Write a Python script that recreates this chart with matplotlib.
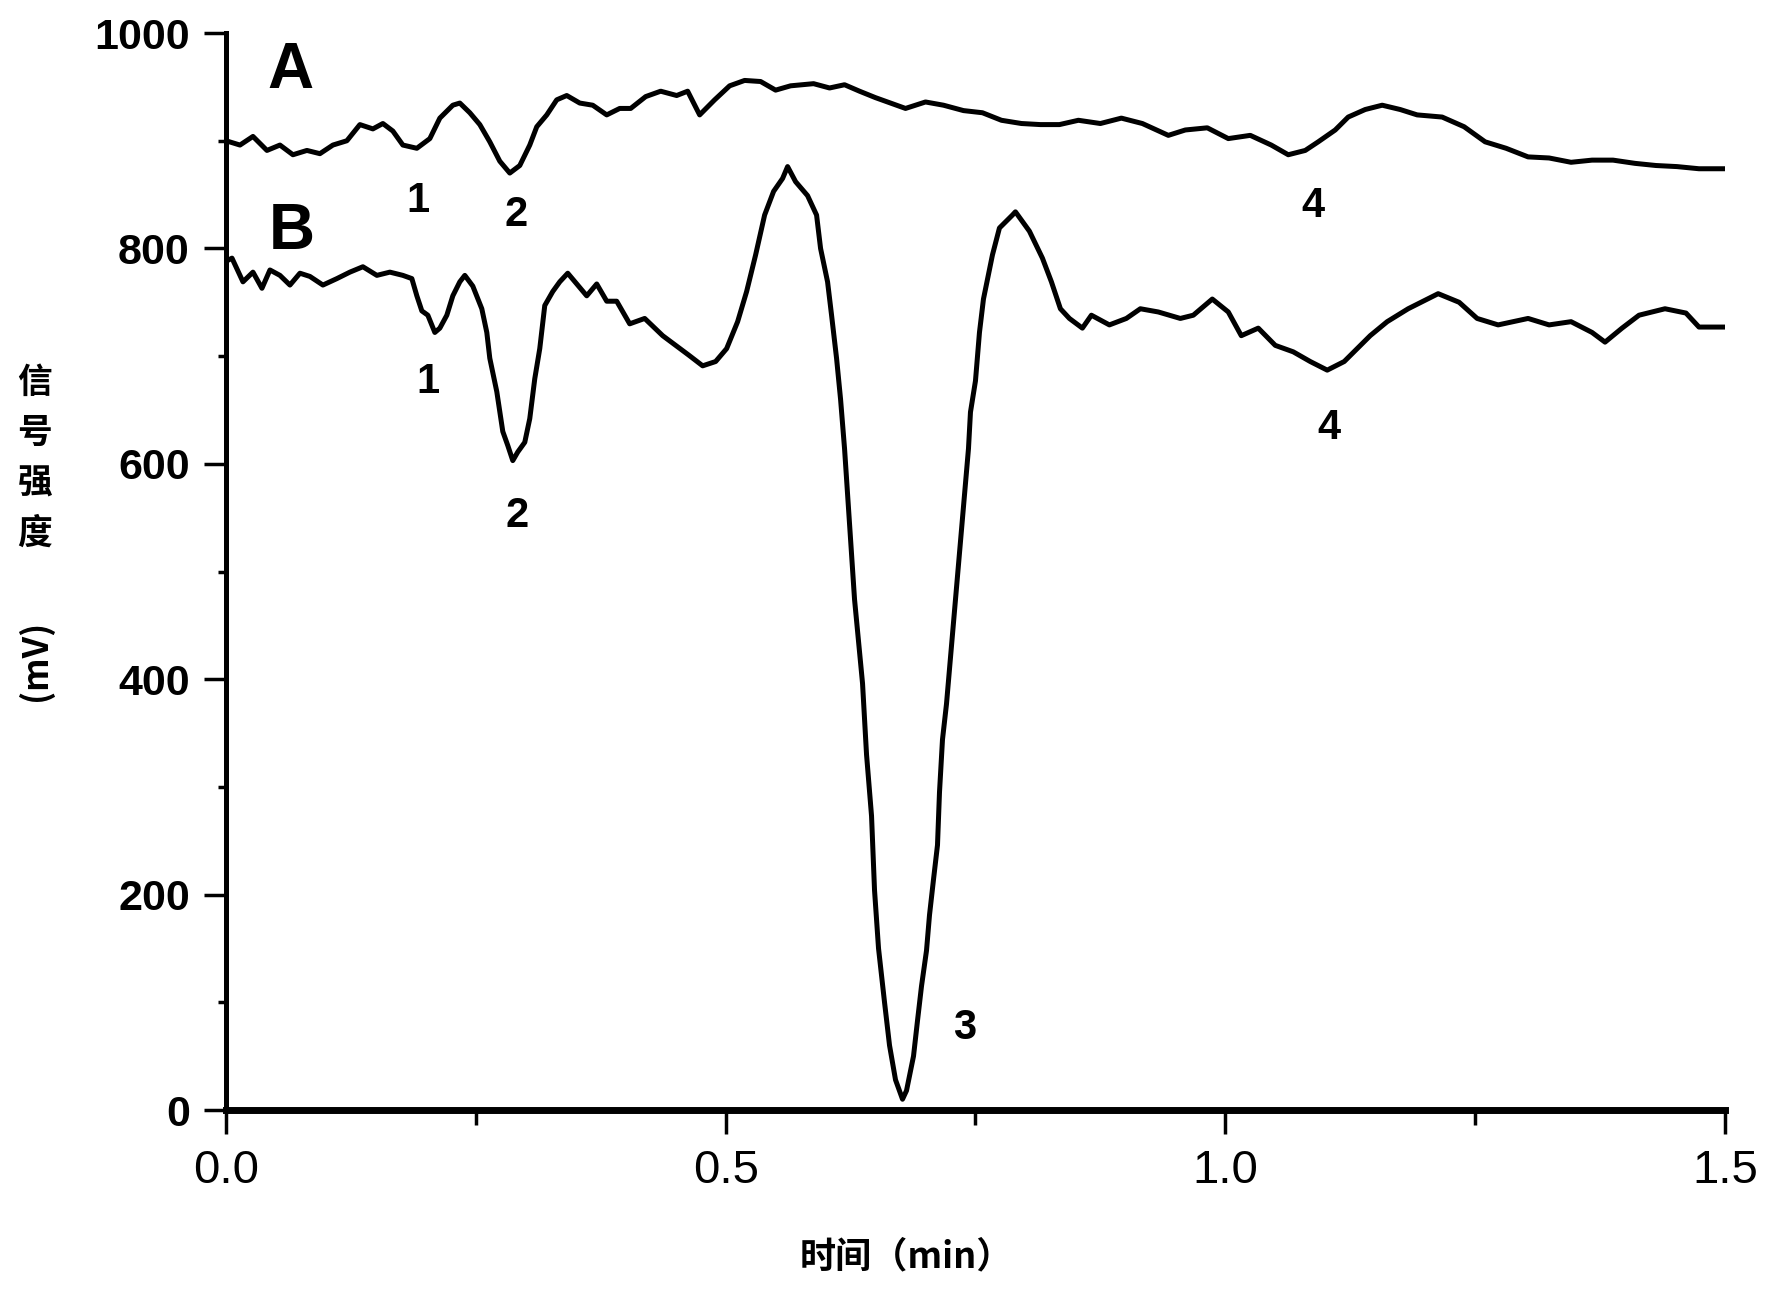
import numpy as np
import matplotlib
matplotlib.use("Agg")
import matplotlib.pyplot as plt
from matplotlib.ticker import MultipleLocator

# trace A (time in min, signal in mV)
t_a = [0.000, 0.014, 0.027, 0.041, 0.054, 0.067, 0.081, 0.094, 0.107, 0.121,
       0.134, 0.147, 0.157, 0.167, 0.177, 0.191, 0.204, 0.214, 0.227, 0.234,
       0.244, 0.254, 0.264, 0.274, 0.284, 0.294, 0.304, 0.311, 0.321, 0.331,
       0.341, 0.354, 0.367, 0.381, 0.394, 0.405, 0.420, 0.435, 0.451, 0.462,
       0.474, 0.489, 0.504, 0.519, 0.535, 0.550, 0.565, 0.588, 0.604, 0.619,
       0.634, 0.650, 0.665, 0.680, 0.700, 0.718, 0.738, 0.757, 0.776, 0.796,
       0.815, 0.834, 0.853, 0.875, 0.896, 0.917, 0.943, 0.960, 0.982, 1.003,
       1.025, 1.046, 1.063, 1.080, 1.093, 1.110, 1.123, 1.140, 1.157, 1.175,
       1.192, 1.217, 1.239, 1.260, 1.281, 1.303, 1.324, 1.346, 1.367, 1.388,
       1.410, 1.431, 1.452, 1.474, 1.500]
v_a = [900, 896, 904, 891, 896, 887, 891, 888, 896, 900,
       915, 911, 916, 909, 896, 893, 902, 921, 933, 935,
       926, 915, 899, 881, 870, 877, 896, 913, 924, 938,
       942, 935, 933, 924, 930, 930, 941, 946, 942, 946,
       924, 938, 951, 956, 955, 947, 951, 953, 949, 952,
       946, 940, 935, 930, 936, 933, 928, 926, 919, 916,
       915, 915, 919, 916, 921, 916, 905, 910, 912, 902,
       905, 896, 887, 891, 899, 910, 922, 929, 933, 929,
       924, 922, 913, 899, 893, 885, 884, 880, 882, 882,
       879, 877, 876, 874, 874]

# trace B
t_b = [0.000, 0.006, 0.017, 0.027, 0.036, 0.044, 0.054, 0.064, 0.074, 0.084,
       0.097, 0.111, 0.124, 0.137, 0.151, 0.164, 0.177, 0.186, 0.191, 0.196,
       0.202, 0.209, 0.214, 0.221, 0.227, 0.234, 0.239, 0.247, 0.256, 0.261,
       0.264, 0.271, 0.277, 0.282, 0.287, 0.292, 0.299, 0.304, 0.309, 0.314,
       0.319, 0.327, 0.334, 0.342, 0.351, 0.361, 0.371, 0.381, 0.391, 0.404,
       0.419, 0.437, 0.450, 0.463, 0.477, 0.490, 0.501, 0.512, 0.521, 0.530,
       0.539, 0.548, 0.557, 0.562, 0.570, 0.582, 0.591, 0.595, 0.602, 0.606,
       0.611, 0.615, 0.619, 0.629, 0.637, 0.641, 0.646, 0.649, 0.653, 0.659,
       0.664, 0.670, 0.677, 0.681, 0.688, 0.692, 0.696, 0.701, 0.704, 0.708,
       0.712, 0.714, 0.717, 0.721, 0.724, 0.727, 0.730, 0.743, 0.745, 0.750,
       0.754, 0.758, 0.767, 0.774, 0.787, 0.790, 0.804, 0.817, 0.826, 0.835,
       0.844, 0.857, 0.866, 0.884, 0.901, 0.915, 0.933, 0.955, 0.968, 0.987,
       1.003, 1.016, 1.033, 1.050, 1.068, 1.085, 1.102, 1.119, 1.132, 1.145,
       1.162, 1.183, 1.213, 1.234, 1.252, 1.273, 1.303, 1.324, 1.346, 1.367,
       1.380, 1.397, 1.414, 1.440, 1.461, 1.474, 1.500]
v_b = [788, 791, 769, 778, 763, 780, 775, 766, 777, 774,
       766, 772, 778, 783, 775, 778, 775, 772, 756, 742,
       738, 722, 726, 738, 756, 769, 775, 765, 744, 722,
       698, 667, 630, 617, 603, 611, 620, 642, 679, 707,
       747, 760, 769, 777, 767, 756, 767, 751, 751, 730,
       735, 719, 710, 701, 691, 695, 707, 732, 760, 794,
       831, 853, 865, 876, 862, 849, 831, 800, 769, 738,
       698, 660, 614, 474, 396, 330, 273, 204, 150, 100,
       60, 28, 10, 18, 50, 83, 115, 148, 181, 214,
       246, 295, 344, 377, 409, 442, 474, 614, 648, 677,
       722, 753, 794, 819, 831, 834, 816, 791, 769, 744,
       735, 726, 738, 729, 735, 744, 741, 735, 738, 753,
       741, 719, 726, 710, 704, 695, 687, 695, 707, 719,
       732, 744, 758, 750, 735, 729, 735, 729, 732, 722,
       713, 726, 738, 744, 740, 727, 727]

# curve names and peak numbers
curve_names = ["A", "B"]
curve_name_pos = [(0.065, 965), (0.066, 815)]
peak_labels = ["1", "2", "4", "1", "2", "3", "4"]
peak_pos = [(0.192, 844), (0.290, 831), (1.088, 839),
            (0.202, 676), (0.291, 552), (0.739, 76), (1.104, 633)]

x_ticks = [0.0, 0.5, 1.0, 1.5]
y_ticks = [0, 200, 400, 600, 800, 1000]

cjk = ['Noto Sans CJK SC', 'DejaVu Sans']
latin = ['Liberation Sans', 'DejaVu Sans']

fig = plt.figure(figsize=(17.71, 12.91), dpi=100)
ax = fig.add_axes([0.1276, 0.1402, 0.8464, 0.8342])

ax.plot(t_a, v_a, color='black', lw=3.6)
ax.plot(t_b, v_b, color='black', lw=3.6)

ax.set_xlim(0, 1.5)
ax.set_ylim(0, 1000)

for s in ['top', 'right']:
    ax.spines[s].set_visible(False)
ax.spines['left'].set_linewidth(3.6)
ax.spines['bottom'].set_linewidth(5)

ax.set_xticks(x_ticks)
ax.set_xticklabels(['%.1f' % x for x in x_ticks], family=latin, fontsize=34)
ax.set_yticks(y_ticks)
ax.set_yticklabels([str(y) for y in y_ticks], family=latin, fontsize=31,
                   fontweight='bold')
ax.xaxis.set_minor_locator(MultipleLocator(0.25))
ax.yaxis.set_minor_locator(MultipleLocator(100))
ax.tick_params(axis='x', which='major', direction='out', length=17, width=2.5, pad=11)
ax.tick_params(axis='x', which='minor', direction='out', length=11, width=2.5)
ax.tick_params(axis='y', which='major', direction='out', length=16, width=2.5, pad=10)
ax.tick_params(axis='y', which='minor', direction='out', length=6, width=2.5)

for name, (x, y) in zip(curve_names, curve_name_pos):
    ax.text(x, y, name, ha='center', va='center', fontsize=46,
            fontweight='bold', family=latin)
for lab, (x, y) in zip(peak_labels, peak_pos):
    ax.text(x, y, lab, ha='center', va='center', fontsize=30,
            fontweight='bold', family=latin)

# axis titles
fig.text(906 / 1771, 1 - 1257 / 1291, '时间（min）', ha='center', va='center',
         fontsize=26, fontweight='bold', family=cjk)
fig.text(35 / 1771, 1 - 458 / 1291, '信\n号\n强\n度', ha='center', va='center',
         fontsize=25, fontweight='bold', family=cjk, linespacing=1.55)
fig.text(35 / 1771, 1 - 660 / 1291, '(mV)', ha='center', va='center',
         rotation=90, fontsize=25, fontweight='bold', family=cjk)

fig.savefig('out.png', dpi=100)
